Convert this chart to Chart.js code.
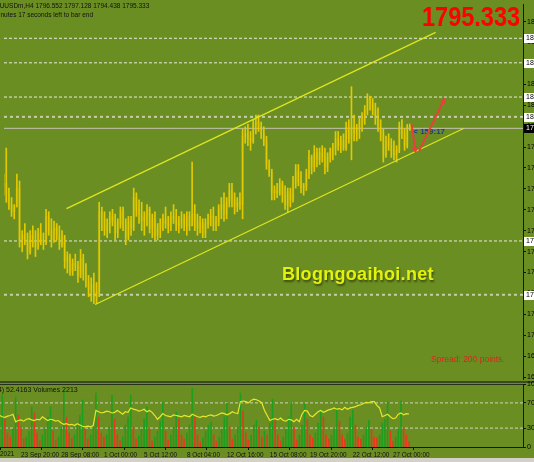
<!DOCTYPE html>
<html>
<head>
<meta charset="utf-8">
<script src="https://cdn.jsdelivr.net/npm/chart.js@4.4.1/dist/chart.umd.min.js"></script>
<style>
  html, body { margin:0; padding:0; background:#6b8e23; }
  #wrap { position:relative; width:534px; height:462px; overflow:hidden; background:#6b8e23;
          font-family:"Liberation Sans", Arial, sans-serif; }
  canvas { position:absolute; left:0; }
  #main { top:0; }
  #sub { top:380px; }
  .txt { position:absolute; white-space:nowrap; }
</style>
</head>
<body>
<div id="wrap">
  <div class="txt" id="timer" style="left:413px; top:128px; font:bold 8px 'Liberation Sans',Arial; line-height:8px; color:#1c3a9c;">&lt; 159:17</div>
  <div style="position:absolute; left:0; top:381px; width:534px; height:2px; background:#3c4a20;"></div>
  <div style="position:absolute; left:0; top:384px; width:523px; height:1px; background:#26301a;"></div>
  <canvas id="main" width="534" height="383"></canvas>
  <canvas id="sub" width="534" height="82"></canvas>
  <div class="txt" style="left:-9px; top:2px; font-size:6.5px; line-height:8px; color:#111;">XAUUSDm,H4 1796.552 1797.128 1794.438 1795.333</div>
  <div class="txt" style="left:-19px; top:11px; font-size:6.5px; line-height:8px; color:#111;">159 minutes 17 seconds left to bar end</div>
  <div class="txt" style="left:422px; top:3px; font:bold 28px 'Liberation Sans',Arial; line-height:28px; color:#ff0000; transform:scaleX(0.84); transform-origin:0 0;">1795.333</div>
  <div class="txt" style="left:282px; top:265px; font:bold 18px 'Liberation Sans',Arial; line-height:18px; letter-spacing:0.3px; color:#e2f20e; text-shadow:1px 2px 2px rgba(40,50,0,0.7);">Blogngoaihoi.net</div>
  <div class="txt" style="left:431px; top:355px; font-size:8.5px; line-height:8.5px; color:#d8281c;">Spread: 200 points.</div>
  <div class="txt" style="left:-20px; top:386px; font-size:7px; line-height:8px; color:#111;">RSI(14) 52.4163 Volumes 2213</div>
  <div class="txt" style="left:-22px; top:450px; font-size:6.4px; line-height:8px; color:#111;">22 Sep 2021</div>
  <div style="position:absolute; left:0; top:458px; width:534px; height:4px; background:#d4d0c8;"></div>
</div>
<script>
// ---------------------------------------------------------------------------
// DATA (XAUUSDm H4, one value per bar, bar 0 = leftmost)
// ---------------------------------------------------------------------------

const opens = [
  1771,1772,1768,1763,1760,1762,1770,1748,1750,1748,
  1743,1750,1747,1745,1751,1748,1747,1758,1752,1748,
  1753,1750,1746,1749,1739,1741,1735,1738,1737,1733,
  1740,1734,1730,1727,1729,1724,1726,1760,1757,1752,
  1755,1758,1756,1751,1755,1760,1754,1749,1756,1753,
  1766,1761,1759,1756,1758,1761,1753,1757,1750,1753,
  1755,1757,1755,1754,1758,1757,1754,1756,1757,1754,
  1758,1754,1759,1756,1753,1755,1751,1755,1757,1758,
  1754,1756,1761,1763,1759,1764,1769,1765,1762,1764,
  1763,1792,1793,1791,1790,1797,1798,1796,1793,1790,
  1780,1777,1768,1769,1768,1772,1767,1763,1768,1765,
  1772,1777,1773,1770,1771,1776,1783,1779,1785,1782,
  1785,1784,1779,1783,1785,1787,1791,1788,1790,1787,
  1796,1791,1796,1793,1795,1798,1800,1803,1808,1806,
  1803,1800,1796,1793,1784,1790,1788,1786,1784,1786,
  1796,1793,1788,1796.552
];
const highs = [
  1776,1787,1770,1766,1763,1776,1773,1752,1755,1751,
  1752,1754,1752,1753,1755,1751,1761,1760,1757,1756,
  1755,1754,1752,1750,1743,1742,1740,1742,1739,1744,
  1742,1738,1733,1732,1734,1730,1764,1762,1760,1757,
  1760,1761,1759,1757,1762,1762,1757,1758,1758,1770,
  1768,1765,1764,1760,1763,1762,1759,1760,1755,1757,
  1759,1762,1758,1760,1763,1761,1758,1760,1759,1760,
  1760,1781,1763,1759,1758,1757,1757,1759,1761,1762,
  1758,1763,1766,1768,1766,1772,1772,1768,1766,1768,
  1795,1796,1797,1794,1799,1801,1801,1798,1796,1792,
  1782,1778,1771,1772,1774,1773,1771,1770,1770,1775,
  1780,1780,1777,1772,1778,1786,1784,1788,1787,1787,
  1788,1787,1785,1787,1789,1794,1794,1792,1793,1798,
  1799,1813,1801,1797,1800,1802,1805,1810,1809,1808,
  1806,1804,1799,1795,1792,1793,1791,1790,1788,1798,
  1799,1795,1797,1797.128
];
const lows = [
  1767,1764,1761,1758,1757,1762,1745,1743,1746,1740,
  1742,1745,1741,1744,1746,1744,1746,1750,1745,1747,
  1748,1744,1745,1736,1734,1733,1733,1735,1730,1732,
  1731,1728,1724,1722,1721,1721,1724,1752,1750,1749,
  1751,1754,1748,1749,1753,1752,1746,1748,1750,1752,
  1758,1755,1752,1750,1754,1751,1749,1748,1748,1749,
  1752,1753,1751,1752,1755,1752,1751,1753,1752,1750,
  1752,1754,1752,1750,1751,1749,1749,1753,1754,1752,
  1752,1754,1757,1756,1757,1762,1762,1759,1760,1761,
  1757,1789,1788,1786,1789,1793,1794,1791,1788,1778,
  1775,1765,1765,1766,1767,1764,1761,1760,1762,1764,
  1770,1771,1768,1767,1769,1774,1776,1777,1779,1780,
  1781,1776,1777,1781,1782,1784,1786,1785,1786,1786,
  1789,1782,1790,1790,1791,1794,1797,1801,1803,1801,
  1797,1794,1790,1781,1783,1786,1783,1782,1781,1785,
  1791,1786,1787,1794.438
];
const closes = [
  1772,1768,1763,1760,1762,1770,1748,1750,1748,1743,
  1750,1747,1745,1751,1748,1747,1758,1752,1748,1753,
  1750,1746,1749,1739,1741,1735,1738,1737,1733,1740,
  1734,1730,1727,1729,1724,1726,1760,1757,1752,1755,
  1758,1756,1751,1755,1760,1754,1749,1756,1753,1766,
  1761,1759,1756,1758,1761,1753,1757,1750,1753,1755,
  1757,1755,1754,1758,1757,1754,1756,1757,1754,1758,
  1754,1759,1756,1753,1755,1751,1755,1757,1758,1754,
  1756,1761,1763,1759,1764,1769,1765,1762,1764,1763,
  1792,1793,1791,1790,1797,1798,1796,1793,1790,1780,
  1777,1768,1769,1768,1772,1767,1763,1768,1765,1772,
  1777,1773,1770,1771,1776,1783,1779,1785,1782,1785,
  1784,1779,1783,1785,1787,1791,1788,1790,1787,1796,
  1791,1796,1793,1795,1798,1800,1803,1808,1806,1803,
  1800,1796,1793,1784,1790,1788,1786,1784,1786,1796,
  1793,1788,1796,1795.333
];

const volumes = [
  12000,20800,11200,5600,4000,7200,20000,12800,8000,3200,
  4000,6400,16000,13600,5600,2400,4800,7200,12000,16000,
  6400,2800,4000,8000,22800,12000,5600,3600,4800,9600,
  12800,18800,7200,3200,4800,8800,21600,12000,5600,4000,
  4800,8000,20800,11200,4800,2400,4000,8800,12000,20800,
  8000,3200,4400,7200,11200,16000,7200,2400,4000,6400,
  10400,18000,6400,2800,4800,8000,14000,11200,4800,3200,
  5600,8800,23600,12000,4800,2000,3600,6400,8800,10000,
  4800,2400,4000,7200,12000,17600,8000,3200,4800,8000,
  21600,14400,5600,2800,4800,8800,10800,8000,4000,6400,
  4800,9600,19200,11200,4800,2400,4000,7200,12000,18000,
  8000,2800,4800,8800,17200,11200,4800,3600,5600,9600,
  14000,12000,4800,3200,4800,7200,15600,10400,4800,3200,
  5600,12000,14800,8800,4000,3200,4800,8000,10800,7200,
  4000,3600,4800,9600,11200,18000,6400,2400,4000,7200,
  18400,7600,4800,2213
];

const rsi = [
  50,48,47,49,50,52,40,42,43,41,
  44,45,43,42,44,43,48,45,42,44,
  43,41,42,38,36,37,35,36,34,37,
  35,33,32,33,32,34,58,56,54,55,
  57,56,54,55,58,55,52,56,55,62,
  60,59,57,58,60,56,58,55,50,44,
  48,53,50,49,48,51,50,49,48,50,
  49,48,52,50,48,47,49,48,50,51,
  49,50,52,54,53,51,53,56,54,53,
  72,73,72,70,74,76,75,73,70,58,
  50,42,44,45,43,46,42,41,44,43,
  40,44,40,52,58,57,50,48,52,56,
  58,55,57,59,60,62,60,61,59,63,
  60,62,63,64,66,67,69,71,70,72,
  72,66,62,48,50,52,48,45,46,52,
  54,51,53,52.4163
];

// time axis labels (bar index -> label)
const timeIdx = [8, 23, 39, 54, 70, 85, 101, 116, 132, 147];
const timeLabels = ["23 Sep 20:00","28 Sep 08:00","1 Oct 00:00","5 Oct 12:00","8 Oct 04:00",
                    "12 Oct 16:00","15 Oct 08:00","19 Oct 20:00","22 Oct 12:00","27 Oct 00:00"];

// price axis ticks
const priceTicks = [1840.56,1831.70,1822.84,1813.98,1805.12,1796.26,1787.40,1778.54,1769.68,
                    1760.82,1751.96,1743.10,1734.24,1725.38,1716.52,1707.66,1698.80,1689.94];

// horizontal levels drawn on the chart
const levelsThin = [1833.50, 1823.10, 1808.60, 1747.60];
const levelsDotted = [1800.20, 1724.80];
const lastPrice = 1795.333;

// channel (bar index, price)
const channelUpper = [[23.7, 1761.3], [162.7, 1836.0]];
const channelLower = [[34.5, 1720.7], [173.2, 1795.3]];

// red arrows drawn on the chart
const arrowDown = [[153.6, 1797.1], [155.0, 1786.5]];
const arrowUp = [[156.5, 1785.8], [165.6, 1806.8]];

// rsi sub-window levels / ticks
const rsiLevels = [30, 70];
const rsiTicks = [0, 30, 70, 100];

// ---------------------------------------------------------------------------
// CHARTS
// ---------------------------------------------------------------------------

Chart.defaults.font.family = '"Liberation Sans", Arial, sans-serif';
Chart.defaults.font.size = 7;
Chart.defaults.color = '#000';

const xMin = 0.152, xMax = 195.6;
const barColor = '#e2c900';

function pts(pairs) {
    return pairs.map(p => ({ x: p[0], y: p[1] }));
}

function hline(v, color, width, dash) {
    return {
        type: 'line',
        data: [{ x: xMin, y: v }, { x: xMax, y: v }],
        borderColor: color, borderWidth: width, borderDash: dash,
        pointRadius: 0, yAxisID: 'y'
    };
}

const wicks = highs.map((h, i) => ({ x: i, y: [lows[i], h] }));
const bodies = opens.map((o, i) => ({ x: i, y: [Math.min(o, closes[i]), Math.max(o, closes[i])] }));

// boxed price labels on the right axis
const priceTags = {
    id: 'priceTags',
    afterDraw(chart) {
        const c = chart.ctx, ys = chart.scales.y;
        c.save();
        c.font = '7px "Liberation Sans", Arial';
        c.textBaseline = 'middle';
        for (const v of levelsThin.concat(levelsDotted)) {
            const py = Math.round(ys.getPixelForValue(v));
            c.fillStyle = '#ffffff';
            c.fillRect(524, py - 4, 12, 9);
            c.fillStyle = '#000';
            c.fillText(v.toFixed(3), 526, py + 0.5);
        }
        const pc = Math.round(ys.getPixelForValue(lastPrice));
        c.fillStyle = '#000';
        c.fillRect(524, pc - 4, 12, 9);
        c.fillStyle = '#fff';
        c.fillText(lastPrice.toFixed(3), 526, pc + 0.5);
        c.restore();
    }
};

const mainDatasets = [
    {
        type: 'line', data: pts(arrowDown), borderColor: '#e8403a', borderWidth: 2,
        pointRadius: [0, 4], pointStyle: 'triangle', pointRotation: 172,
        pointBackgroundColor: '#e8403a', pointBorderWidth: 0
    },
    {
        type: 'line', data: pts(arrowUp), borderColor: '#e8403a', borderWidth: 2,
        pointRadius: [0, 4], pointStyle: 'triangle', pointRotation: 26,
        pointBackgroundColor: '#e8403a', pointBorderWidth: 0
    },
    { type: 'line', data: pts(channelUpper), borderColor: '#dde61e', borderWidth: 1.2, pointRadius: 0 },
    { type: 'line', data: pts(channelLower), borderColor: '#dde61e', borderWidth: 1.2, pointRadius: 0 },
    { type: 'bar', data: wicks, backgroundColor: barColor, barThickness: 1, grouped: false },
    { type: 'bar', data: bodies, backgroundColor: 'rgba(226,201,0,0.22)', barThickness: 2, grouped: false },
    hline(lastPrice, '#c4c4b4', 1, [])
];
levelsThin.forEach(v => mainDatasets.push(hline(v, 'rgba(245,245,240,0.9)', 1, [3, 2])));
levelsDotted.forEach(v => mainDatasets.push(hline(v, 'rgba(215,215,195,0.85)', 2, [3, 3])));

new Chart(document.getElementById('main'), {
    type: 'bar',
    data: { datasets: mainDatasets },
    options: {
        responsive: false, animation: false, devicePixelRatio: 1,
        layout: { padding: 0 },
        plugins: { legend: { display: false }, tooltip: { enabled: false } },
        scales: {
            x: { type: 'linear', min: xMin, max: xMax, display: false, offset: false },
            y: {
                position: 'right', min: 1689.1, max: 1848.03,
                afterBuildTicks: s => { s.ticks = priceTicks.map(v => ({ value: v })); },
                afterFit: s => { s.width = 11; s.paddingTop = 0; s.paddingBottom = 0; },
                ticks: { callback: v => v.toFixed(2), padding: 1, color: '#000', font: { size: 7 } },
                grid: { drawOnChartArea: false, drawTicks: true, tickLength: 3, tickColor: '#111' },
                border: { display: true, color: '#161616', width: 1 }
            }
        }
    },
    plugins: [priceTags]
});

const volColors = volumes.map((v, i) => (i > 0 && v < volumes[i - 1]) ? '#e8381e' : '#1e9e1e');

const subDatasets = [
    {
        type: 'line', data: rsi.map((v, i) => ({ x: i, y: v })), yAxisID: 'rsi',
        borderColor: '#e4e82a', borderWidth: 1.2, pointRadius: 0, tension: 0
    },
    {
        type: 'bar', data: volumes.map((v, i) => ({ x: i, y: v })), yAxisID: 'vol',
        backgroundColor: volColors, barThickness: 1, grouped: false
    }
];
rsiLevels.forEach(v => subDatasets.push({
    type: 'line', data: [{ x: xMin, y: v }, { x: xMax, y: v }], yAxisID: 'rsi',
    borderColor: 'rgba(225,225,215,0.85)', borderWidth: 1, borderDash: [3, 2], pointRadius: 0
}));

new Chart(document.getElementById('sub'), {
    type: 'bar',
    data: { datasets: subDatasets },
    options: {
        responsive: false, animation: false, devicePixelRatio: 1,
        layout: { padding: { top: 4, left: 0, right: 0, bottom: 0 } },
        plugins: { legend: { display: false }, tooltip: { enabled: false } },
        scales: {
            x: {
                type: 'linear', min: xMin, max: xMax, offset: false,
                afterBuildTicks: s => { s.ticks = timeIdx.map(v => ({ value: v })); },
                afterFit: s => { s.height = 15; s.paddingLeft = 0; s.paddingRight = 0; },
                ticks: {
                    callback: v => { const k = timeIdx.indexOf(v); return k >= 0 ? timeLabels[k] : ''; },
                    autoSkip: false, maxRotation: 0, minRotation: 0, align: 'start',
                    padding: 1, color: '#111', font: { size: 6.4 }
                },
                grid: { drawOnChartArea: false, drawTicks: true, tickLength: 3, tickColor: '#111' },
                border: { display: true, color: '#161616', width: 1 }
            },
            rsi: {
                position: 'right', min: 0, max: 100,
                afterBuildTicks: s => { s.ticks = rsiTicks.map(v => ({ value: v })); },
                afterFit: s => { s.width = 11; s.paddingTop = 0; s.paddingBottom = 0; },
                ticks: { padding: 1, color: '#000', font: { size: 7 } },
                grid: { drawOnChartArea: false, drawTicks: true, tickLength: 3, tickColor: '#111' },
                border: { display: true, color: '#161616', width: 1 }
            },
            vol: { display: false, min: 0, max: 25200 }
        }
    }
});
</script>
</body>
</html>
